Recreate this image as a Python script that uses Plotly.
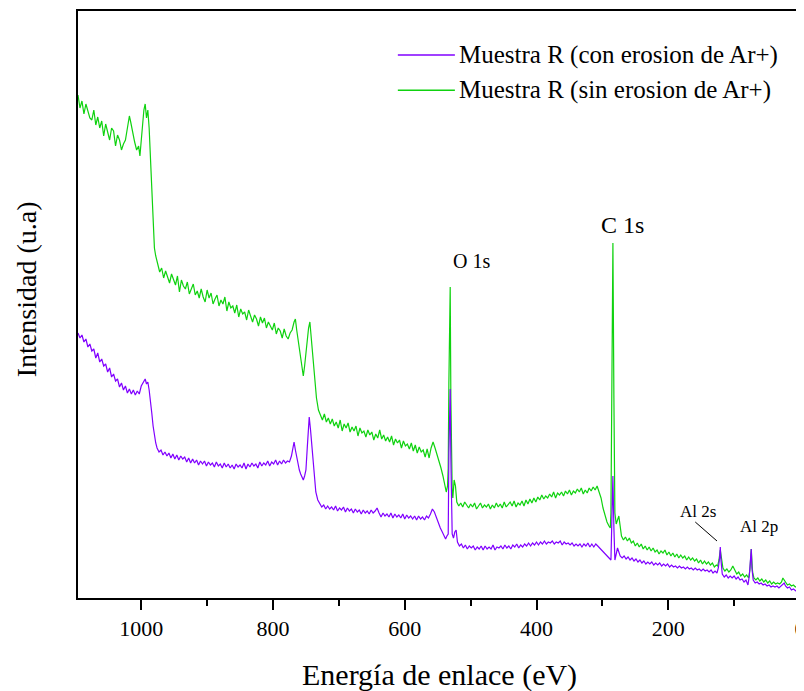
import plotly.graph_objects as go

# ---- data, one row = 10 points ----
serie_sin = "Muestra R (sin erosion de Ar+)"
energia_sin = [
    1096, 1093, 1090, 1087, 1084, 1081, 1078, 1075, 1072, 1069,
    1066, 1063, 1060, 1057, 1054, 1051, 1048, 1045, 1042, 1039,
    1036, 1033, 1030, 1027, 1024, 1021, 1018, 1016, 1013, 1010,
    1007, 1004, 1002, 1000, 998, 996, 994, 992, 990, 988,
    986, 984, 982, 980, 978,
    975, 972, 969, 966, 963, 960, 957, 954, 951, 948,
    945, 942, 939, 936, 933, 930, 927, 924, 921, 918,
    915, 912, 909, 906, 903, 900, 897, 894, 891, 888,
    885, 882, 879, 876, 873, 870, 867, 864, 861, 858,
    855, 852, 849, 846, 843, 840, 837, 834, 831, 828,
    825, 822, 819, 816, 813, 810, 807, 804, 801, 798,
    795, 792, 789, 786, 783, 780, 777,
    774, 771, 768, 766, 764, 762, 760, 758, 756, 754,
    752, 750, 748, 746, 744, 742, 740, 738, 736, 734,
    731, 728, 725, 722, 719, 716, 713, 710, 707, 704,
    701, 698, 695, 692, 689, 686, 683, 680, 677, 674,
    671, 668, 665, 662, 659, 656, 653, 650, 647, 644,
    641, 638, 635, 632, 629, 626, 623, 620, 617, 614,
    611, 608, 605, 602, 599, 596, 593, 590, 587, 584,
    581, 578, 575, 572, 569, 566, 563,
    560, 557, 554, 551, 548, 545, 542, 539, 537, 535,
    534, 533, 531, 530, 529, 528, 527, 525, 523, 521,
    518, 515, 512, 509, 506, 503, 500, 497, 494, 491,
    488, 485, 482, 479, 476, 473, 470, 467, 464, 461,
    458, 455, 452, 449, 446, 443, 440, 437, 434, 431,
    428, 425, 422, 419, 416, 413, 410, 407, 404, 401,
    398, 395, 392, 389, 386, 383, 380, 377, 374, 371,
    368, 365, 362, 359, 356, 353, 350, 347, 344, 341,
    338, 335, 332, 329, 326, 323, 320, 317, 314, 311,
    308, 305, 302, 299, 296, 293, 290,
    288, 287, 285.5, 284, 282.5, 281, 279, 277, 275, 273,
    271,
    268, 265, 262, 259, 256, 253, 250, 247, 244, 241,
    238, 235, 232, 229, 226, 223, 220, 217, 214, 211,
    208, 205, 202, 199, 196, 193, 190, 187, 184, 181,
    178, 175, 172, 169, 166, 163, 160, 157, 154, 151,
    148, 145, 142, 139, 136, 133, 130, 127,
    125, 123, 121, 119, 117, 114, 111, 108, 105, 102,
    99, 96, 93, 90, 87, 84, 81, 78, 76, 74,
    72, 70, 67, 64, 61, 58, 55, 52, 49, 46,
    43, 40, 37, 34, 31, 28, 26, 24, 22, 19,
    16, 13, 10, 7, 4, 2, 0,
]
intensidad_sin = [
    503, 490, 497, 484, 494, 486, 480, 478, 488, 473,
    481, 470, 477, 462, 474, 466, 458, 470, 467, 452,
    463, 458, 448, 454, 458, 470, 482, 476, 465, 456,
    448, 452, 442, 460, 478, 488, 494, 480, 488, 470,
    440, 405, 368, 350, 342,
    335, 326, 330, 320, 327, 322, 315, 324, 318, 313,
    322, 306, 318, 312, 309, 316, 304, 310, 314, 303,
    307, 300, 309, 301, 296, 308, 300, 305, 294, 299,
    303, 292, 298, 294, 301, 287, 296, 290, 292, 285,
    293, 281, 289, 284, 286, 278, 288, 282, 276, 283,
    279, 272, 281, 275, 280, 270, 276, 272, 268, 275,
    264, 270, 267, 260, 269, 262, 259,
    265, 268, 276, 279, 268, 258, 248, 240, 230, 222,
    232, 245, 260, 270, 276, 262, 245, 228, 214, 200,
    188, 182, 178, 184, 176, 180, 174, 179, 172, 176,
    170, 178, 167, 174, 170, 175, 166, 171, 167, 172,
    162, 170, 165, 167, 161, 168, 163, 166, 158, 164,
    160, 168, 159, 163, 157, 161, 156, 162, 153, 159,
    155, 158, 150, 157, 152, 154, 149, 155, 147, 153,
    145, 151, 146, 148, 141, 149, 140,
    150, 156, 150, 144, 136, 130, 122, 114, 106, 112,
    130, 215, 311, 200, 130, 108, 100, 118, 112, 96,
    92, 95, 91, 96, 93, 90, 94, 91, 95, 89,
    92, 95, 90, 93, 91, 94, 89, 93, 90, 95,
    91, 94, 90, 96, 91, 93, 96, 92, 97, 91,
    95, 93, 97, 92, 98, 94, 99, 95, 100, 96,
    101, 98, 103, 99, 102, 100, 104, 101, 106, 100,
    105, 103, 106, 102, 107, 104, 108, 103, 107, 105,
    109, 106, 110, 104, 108, 105, 110, 107, 111, 108,
    112, 106, 100, 90, 82, 76, 72,
    70, 85, 220, 355, 200, 85, 74, 78, 82, 72,
    62,
    58, 61, 57, 60, 55, 57, 52, 55, 51, 54,
    49, 52, 48, 51, 47, 50, 46, 48, 44, 47,
    45, 48, 43, 46, 42, 45, 41, 44, 40, 43,
    40, 42, 38, 41, 38, 40, 37, 39, 35, 38,
    34, 37, 34, 36, 33, 35, 31, 33,
    32, 38, 48, 36, 30, 27, 29, 26, 28, 32,
    27, 24, 26, 22, 24, 21, 23, 20, 28, 49,
    26, 20, 18, 20, 17, 19, 16, 18, 15, 17,
    14, 16, 14, 15, 14, 16, 20, 18, 15, 13,
    14, 12, 13, 11, 12, 9, 10,
]

serie_con = "Muestra R (con erosion de Ar+)"
energia_con = [
    1096, 1093, 1090, 1087, 1084, 1081, 1078, 1075, 1072, 1069,
    1066, 1063, 1060, 1057, 1054, 1051, 1048, 1045, 1042, 1039,
    1036, 1033, 1030, 1027, 1024, 1021, 1018, 1015, 1012, 1009,
    1006, 1003, 1000, 997, 994, 992, 990, 988, 986, 984,
    982, 980, 978,
    976, 973, 970, 967, 964, 961, 958, 955, 952, 949,
    946, 943, 940, 937, 934, 931, 928, 925, 922, 919,
    916, 913, 910, 907, 904, 901, 898, 895, 892, 889,
    886, 883, 880, 877, 874, 871, 868, 865, 862, 859,
    856, 853, 850, 847, 844, 841, 838, 835, 832, 829,
    826, 823, 820, 817, 814, 811, 808, 805, 802, 799,
    796, 793, 790, 787, 784, 781, 778, 775, 772,
    770, 768, 766, 764, 762, 760, 758, 756, 754, 752,
    750, 748, 746, 745, 743, 741, 739, 737, 735,
    732, 729, 726, 723, 720, 717, 714, 711, 708, 705,
    702, 699, 696, 693, 690, 687, 684, 681, 678, 675,
    672, 669, 666, 663, 660, 657, 654, 651, 648, 645,
    642, 639, 636, 633, 630, 627, 624, 621, 618, 615,
    612, 609, 606, 603, 600, 597, 594, 591, 588, 585,
    582, 579, 576, 573, 570, 567, 564, 561,
    558, 555, 552, 549, 546, 543, 540, 538, 536, 534,
    533, 531, 530, 529, 528, 526, 524, 522, 520,
    517, 514, 511, 508, 505, 502, 499, 496, 493, 490,
    487, 484, 481, 478, 475, 472, 469, 466, 463, 460,
    457, 454, 451, 448, 445, 442, 439, 436, 433, 430,
    427, 424, 421, 418, 415, 412, 409, 406, 403, 400,
    397, 394, 391, 388, 385, 382, 379, 376, 373, 370,
    367, 364, 361, 358, 355, 352, 349, 346, 343, 340,
    337, 334, 331, 328, 325, 322, 319, 316, 313, 310,
    307, 304, 301, 298, 295, 292, 289,
    287, 285.5, 284, 282.5, 281, 279, 277, 275, 273,
    270, 267, 264, 261, 258, 255, 252, 249, 246, 243,
    240, 237, 234, 231, 228, 225, 222, 219, 216, 213,
    210, 207, 204, 201, 198, 195, 192, 189, 186, 183,
    180, 177, 174, 171, 168, 165, 162, 159, 156, 153,
    150, 147, 144, 141, 138, 135, 132, 129, 126,
    124, 122, 121, 120, 118, 115, 112, 109, 106, 103,
    100, 97, 94, 91, 88, 85, 82, 79, 77, 75,
    74, 73, 71, 68, 65, 62, 59, 56, 53, 50,
    47, 44, 41, 38, 35, 32, 29, 26, 24, 22,
    19, 16, 13, 10, 7, 4, 2, 0,
]
intensidad_con = [
    265, 260, 263, 256, 259, 251, 254, 247, 249, 240,
    245, 236, 239, 232, 234, 226, 230, 221, 224, 217,
    219, 211, 215, 208, 212, 205, 209, 204, 208, 203,
    207, 204, 212, 216, 219, 214, 216, 208, 198, 185,
    172, 162, 155,
    150, 146, 148, 143, 146, 142, 145, 140, 144, 139,
    143, 138, 142, 139, 141, 136, 140, 135, 139, 135,
    138, 133, 137, 134, 137, 132, 136, 133, 135, 131,
    136, 132, 134, 130, 135, 131, 134, 130, 133, 129,
    134, 131, 133, 130, 135, 129, 134, 131, 135, 132,
    134, 130, 136, 132, 135, 133, 137, 132, 136, 134,
    138, 133, 137, 134, 138, 135, 137, 136, 142,
    150, 156, 148, 140, 134, 128, 124, 120, 118, 122,
    128, 150, 175, 181, 168, 150, 135, 118, 106,
    98, 94, 91, 93, 89, 92, 89, 91, 88, 92,
    87, 90, 88, 91, 86, 90, 87, 89, 85, 89,
    86, 88, 84, 88, 85, 87, 84, 88, 85, 87,
    90, 85, 81, 85, 82, 84, 81, 85, 80, 84,
    81, 83, 80, 84, 79, 83, 80, 82, 79, 82,
    78, 82, 79, 81, 78, 82, 80, 84,
    89, 86, 80, 75, 70, 66, 62, 59, 62, 64,
    145, 209, 140, 75, 64, 60, 66, 68, 56,
    52, 54, 50, 53, 49, 52, 50, 52, 48, 51,
    49, 52, 48, 52, 49, 51, 49, 53, 48, 51,
    50, 52, 49, 53, 50, 52, 49, 53, 51, 54,
    50, 53, 51, 54, 52, 55, 52, 55, 53, 56,
    53, 56, 54, 57, 54, 56, 55, 57, 54, 56,
    55, 57, 53, 56, 54, 55, 53, 55, 52, 54,
    52, 54, 51, 54, 52, 55, 51, 54, 51, 54,
    52, 50, 48, 46, 44, 41, 39,
    38, 80, 122, 70, 38, 44, 50, 46, 42,
    40, 42, 39, 41, 38, 40, 37, 39, 36, 38,
    35, 37, 34, 36, 34, 36, 33, 35, 33, 35,
    32, 34, 32, 34, 31, 33, 31, 32, 30, 32,
    30, 31, 29, 31, 29, 30, 28, 30, 28, 29,
    27, 29, 27, 28, 26, 28, 25, 27, 25,
    30, 40, 51, 38, 24, 21, 23, 20, 22, 20,
    22, 19, 21, 18, 19, 16, 18, 13, 22, 40,
    49, 30, 18, 15, 16, 14, 15, 13, 14, 12,
    13, 11, 12, 11, 12, 10, 12, 14, 15, 12,
    10, 11, 8, 9, 7, 6, 5, 3,
]

if len(energia_sin) != len(intensidad_sin) or len(energia_con) != len(intensidad_con):
    raise ValueError(f"length mismatch: sin {len(energia_sin)}/{len(intensidad_sin)}, "
                     f"con {len(energia_con)}/{len(intensidad_con)}")

color_con = "#8000FF"
color_sin = "#0FD20F"

tick_vals = [1000, 800, 600, 400, 200, 0]
minor_vals = [1100, 900, 700, 500, 300, 100]

pico_textos = ["O 1s", "C 1s", "Al 2s", "Al 2p"]
pico_tamanos = [20, 24, 17, 17]

FONT = "Liberation Serif"

fig = go.Figure()
fig.add_trace(go.Scatter(x=energia_sin, y=intensidad_sin, mode="lines",
                         line=dict(color=color_sin, width=1.2), name=serie_sin, showlegend=False))
fig.add_trace(go.Scatter(x=energia_con, y=intensidad_con, mode="lines",
                         line=dict(color=color_con, width=1.2), name=serie_con, showlegend=False))

# manual legend
leg_y = [0.925, 0.865]
for (nm, col), yy in zip([(serie_con, color_con), (serie_sin, color_sin)], leg_y):
    fig.add_shape(type="line", xref="paper", yref="paper", x0=0.443, x1=0.522, y0=yy, y1=yy,
                  line=dict(color=col, width=1.5))
    fig.add_annotation(xref="paper", yref="paper", x=0.525, y=yy, text=nm, showarrow=False,
                       xanchor="left", yanchor="middle", font=dict(family=FONT, size=25, color="black"))

# peak labels (label positions in data units)
pos = [(499, 337), (269, 373), (155, 87), (62, 72)]
for txt, sz, (px, py) in zip(pico_textos, pico_tamanos, pos):
    fig.add_annotation(x=px, y=py, text=txt, showarrow=False, xanchor="center", yanchor="middle",
                       font=dict(family=FONT, size=sz, color="black"))
# pointer line for Al 2s
fig.add_shape(type="line", x0=159, y0=76, x1=126, y1=57, line=dict(color="black", width=1))

# axis titles
fig.add_annotation(xref="paper", yref="paper", x=0.5, y=-0.131, text="Energía de enlace (eV)",
                   showarrow=False, xanchor="center", yanchor="middle",
                   font=dict(family=FONT, size=30, color="black"))
fig.add_annotation(xref="paper", yref="paper", x=-0.072, y=0.526, text="Intensidad (u.a)",
                   showarrow=False, xanchor="center", yanchor="middle", textangle=-90,
                   font=dict(family=FONT, size=28, color="black"))

# page body has an 8px margin, so the figure is sized to fit the 804x691 window
fig.update_layout(
    width=796, height=683,
    margin=dict(l=70, r=4, t=3, b=93),
    paper_bgcolor="white", plot_bgcolor="white",
    font=dict(family=FONT, color="black"),
    xaxis=dict(range=[1096, 0], showline=True, linecolor="black", linewidth=2, mirror=True,
               showgrid=False, zeroline=False, ticks="outside", ticklen=10, tickwidth=2,
               tickcolor="black", tickvals=tick_vals, ticktext=[str(v) for v in tick_vals],
               tickfont=dict(family=FONT, size=22, color="black"), automargin=False,
               ticklabeloverflow="allow",
               minor=dict(tickvals=minor_vals, ticks="outside", ticklen=6, tickwidth=2, tickcolor="black")),
    yaxis=dict(range=[0, 587], showline=True, linecolor="black", linewidth=2, mirror=True,
               showgrid=False, zeroline=False, showticklabels=False, ticks="", automargin=False),
)

fig.write_html("out.html")
